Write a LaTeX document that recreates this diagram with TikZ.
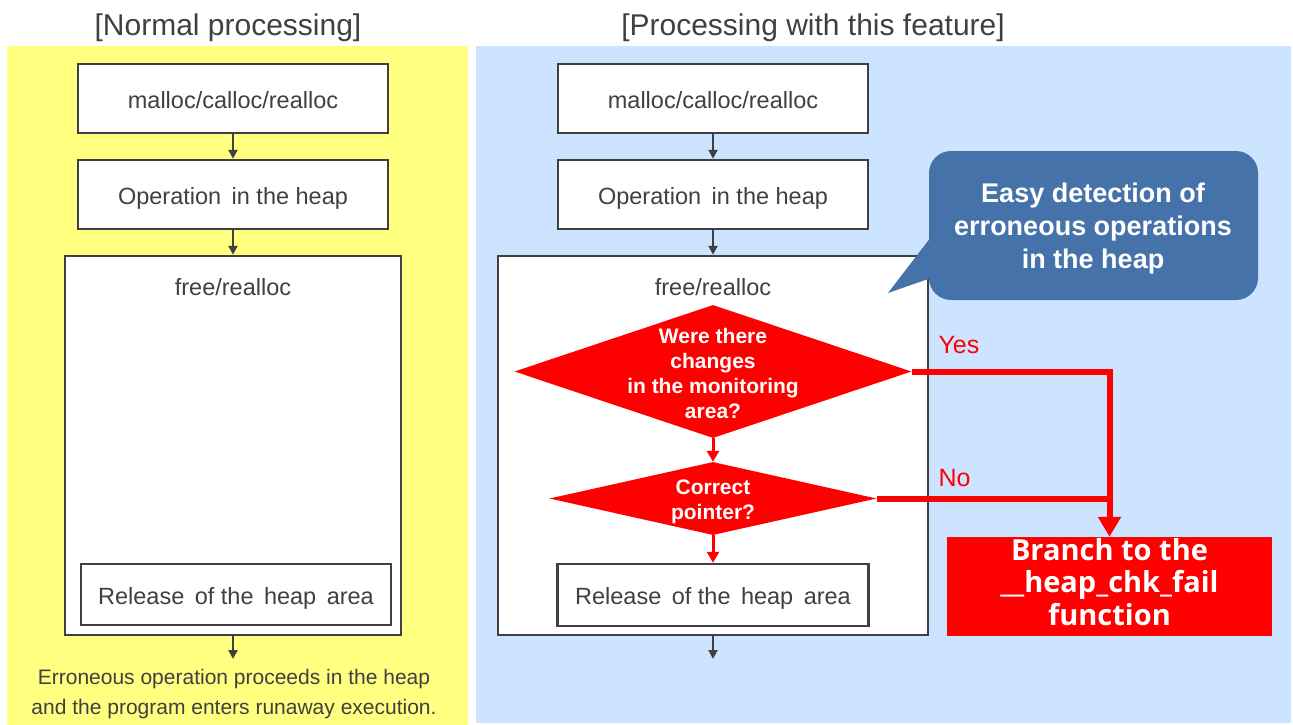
\documentclass[tikz,border=0pt]{standalone}
\usepackage{fontspec}
\setmainfont{Liberation Sans}
\newfontfamily\branchfont{Open Sans}
\usetikzlibrary{shapes.geometric,arrows.meta}

\definecolor{textgray}{HTML}{404040}
\definecolor{panelyellow}{HTML}{FFFF80}
\definecolor{panelblue}{HTML}{CCE4FF}
\definecolor{calloutblue}{HTML}{4672AA}
\definecolor{alertred}{HTML}{FF0000}

\begin{document}
\begin{tikzpicture}[x=1pt,y=-1pt,
  heading/.style={anchor=base, text=textgray, font=\fontsize{30}{34}\selectfont},
  procbox/.style={draw=textgray, line width=2.5pt, fill=white, text=textgray,
    inner sep=0pt, text height=19pt, text depth=0pt, font=\fontsize{23.5}{28}\selectfont},
  framebox/.style={draw=textgray, line width=2.5pt, fill=white, inner sep=0pt},
  framelabel/.style={text=textgray, font=\fontsize{23.5}{28}\selectfont},
  flow/.style={draw=textgray, line width=2.5pt, -{Triangle[length=9pt,width=9pt]}},
  decision/.style={diamond, fill=alertred, inner sep=0pt},
  dtext/.style={text=white, align=center, font=\bfseries\fontsize{21}{25}\selectfont},
  redflow/.style={draw=alertred, line width=3pt, -{Triangle[length=11pt,width=12pt]}},
  bigflow/.style={draw=alertred, line width=6pt},
  answer/.style={anchor=west, text=alertred, font=\fontsize{25}{28}\selectfont},
]
\useasboundingbox (0,0) rectangle (1293,725);
\fill[white] (0,0) rectangle (1293,725);

% background panels
\fill[panelyellow] (7,46) rectangle (468,725);
\fill[panelblue] (476,46) rectangle (1291,723);

% ---------------- normal processing ----------------
\node[heading] (ltitle) at (228,36) {[Normal processing]};

\node[procbox, minimum width=310, minimum height=69] (lm1) at (233,98.5) {malloc/calloc/realloc};
\node[procbox, minimum width=310, minimum height=69] (lm2) at (233,194.5) {Operation\, in the heap};
\node[framebox, minimum width=336, minimum height=379] (lfree) at (233,445.5) {};
\node[framelabel] (lfreelabel) at (233,287) {free/realloc};
\node[procbox, minimum width=310, minimum height=61] (lrel) at (236,594.5) {Release\, of the\, heap\, area};
\coordinate (lend) at (233,659);

\draw[flow] (lm1.south) -- (lm2.north);
\draw[flow] (lm2.south) -- (lfree.north);
\draw[flow] (lfree.south) -- (lend);

\node[text=textgray, align=center, font=\fontsize{21}{30}\selectfont] (lnote) at (234,694)
  {Erroneous operation proceeds in the heap\\and the program enters runaway execution.};

% ---------------- processing with the feature ----------------
\node[heading] (rtitle) at (813,36) {[Processing with this feature]};

\node[procbox, minimum width=310, minimum height=69] (rm1) at (713,98.5) {malloc/calloc/realloc};
\node[procbox, minimum width=310, minimum height=69] (rm2) at (713,194.5) {Operation\, in the heap};
\node[framebox, minimum width=430, minimum height=379] (rfree) at (713,445.5) {};
\node[framelabel] (rfreelabel) at (713,287) {free/realloc};

\node[decision, minimum width=397, minimum height=133] (d1) at (713,371.5) {};
\node[dtext] (d1text) at (713,373) {Were there\\changes\\in the monitoring\\area?};
\node[decision, minimum width=327, minimum height=73] (d2) at (713,498.5) {};
\node[dtext] (d2text) at (713,502) {Correct\\pointer?};

\node[procbox, minimum width=311, minimum height=62] (rrel) at (713,595) {Release\, of the\, heap\, area};
\coordinate (rend) at (713,659);

\draw[flow] (rm1.south) -- (rm2.north);
\draw[flow] (rm2.south) -- (rfree.north);
\draw[redflow] (d1.south) -- (d2.north);
\draw[redflow] (d2.south) -- (rrel.north);
\draw[flow] (rfree.south) -- (rend);

% failure branch
\node[fill=alertred, minimum width=325, minimum height=99, inner sep=0pt] (branch) at (1109.5,586.5) {};
\node[text=white, align=center, font=\branchfont\bfseries\fontsize{29}{32.5}\selectfont]
  (branchtext) at (1109.5,582) {Branch to the\\\_\_heap\_chk\_fail\\function};

\draw[bigflow, -{Triangle[length=20pt,width=22pt]}] (d1.east) -| (branch.north);
\draw[bigflow] (d2.east) -- (d2.east -| branch.north);

\node[answer] (yes) at (935,345) {Yes};
\node[answer] (no) at (935,478) {No};

% speech bubble
\fill[calloutblue, rounded corners=22pt] (929,151) rectangle (1258,300);
\fill[calloutblue] (931,237) -- (888,293) -- (931,278) -- cycle;
\node[text=white, align=center, font=\bfseries\fontsize{27}{33}\selectfont] (callout) at (1093,229)
  {Easy detection of\\erroneous operations\\in the heap};
\end{tikzpicture}
\end{document}
